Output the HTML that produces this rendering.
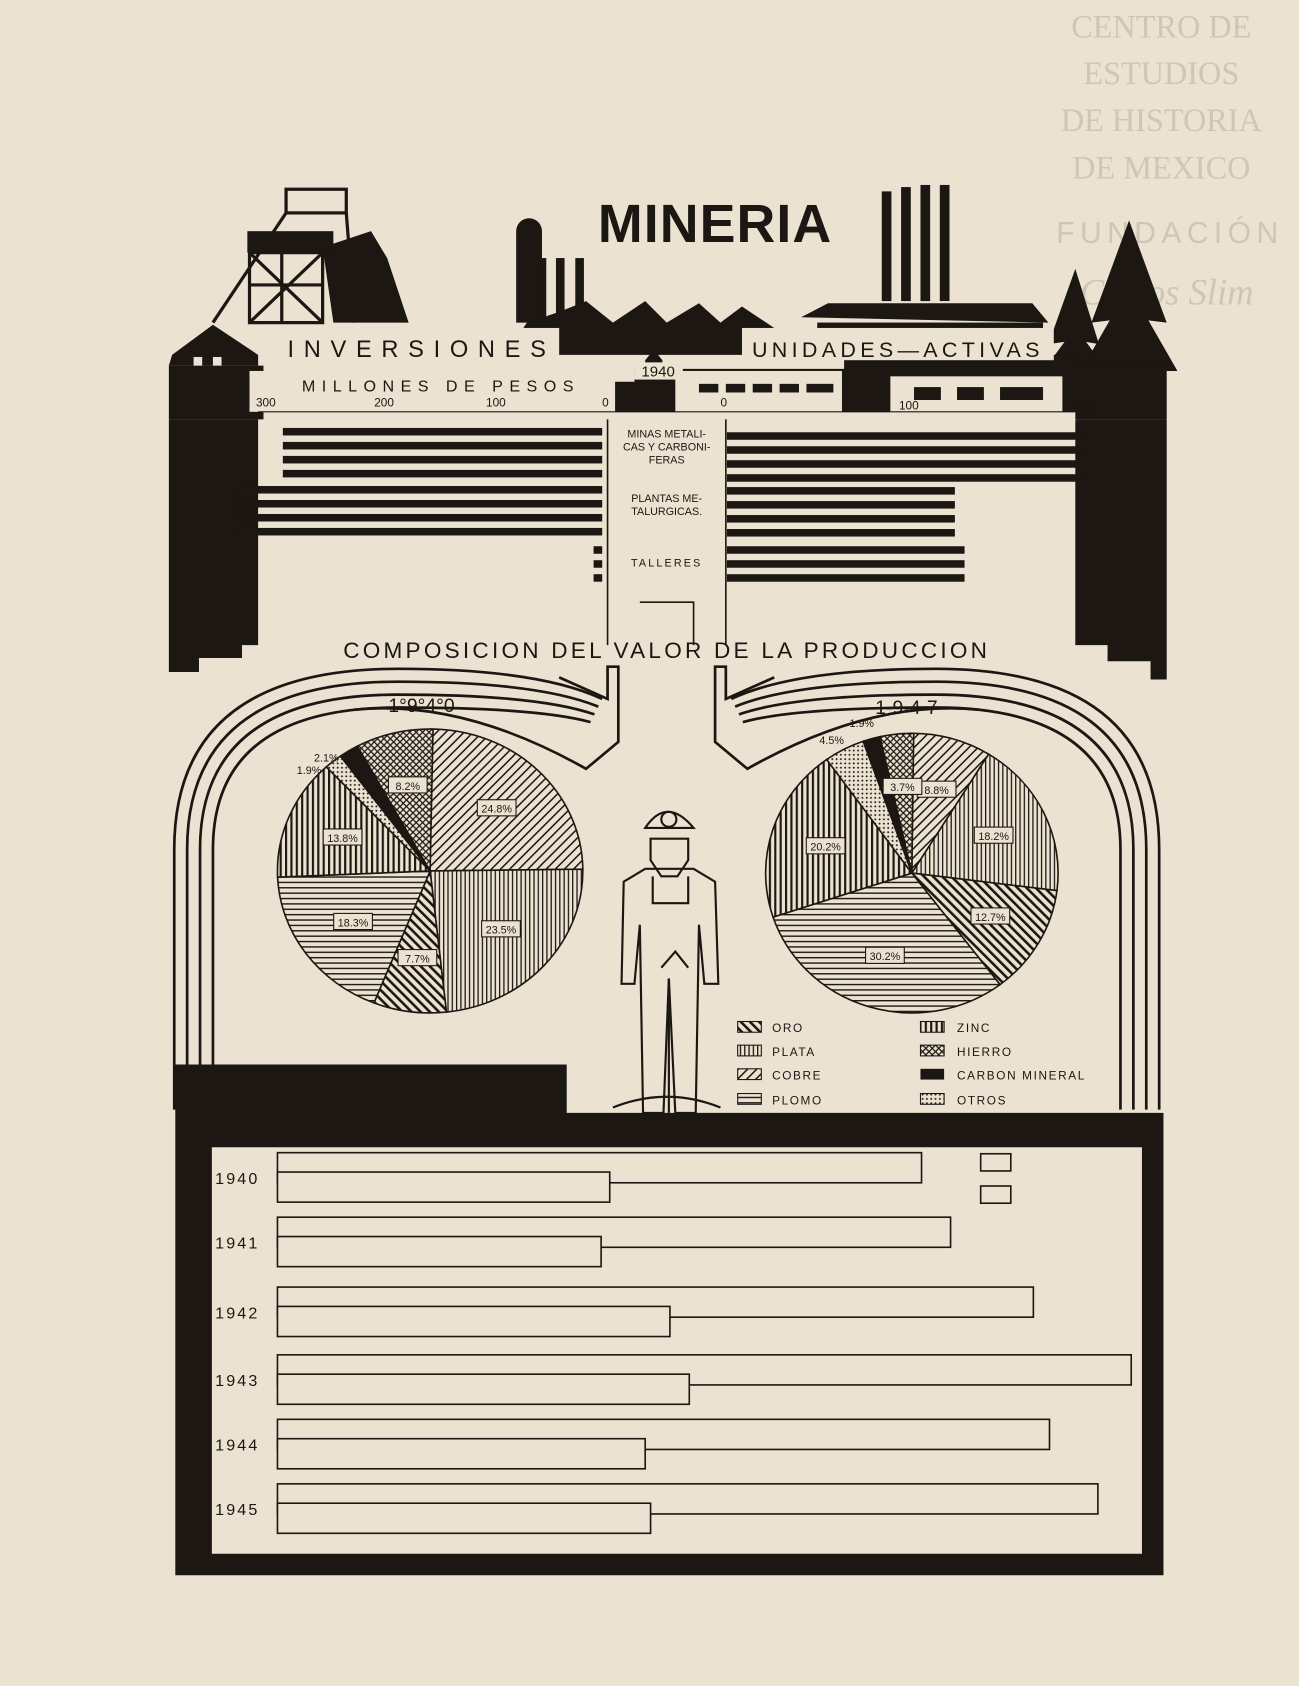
<!DOCTYPE html>
<html><head><meta charset="utf-8"><style>
html,body{margin:0;padding:0;background:#ebe2d1;}
svg{display:block}
text{font-family:"Liberation Sans",sans-serif;fill:#1c1712}
text.wm{font-family:"Liberation Serif",serif;fill:#cfc6b5}
</style></head><body>
<svg id="s" width="1299" height="1686" viewBox="0 0 1208 1568" xmlns="http://www.w3.org/2000/svg">
<defs>
<pattern id="pd" width="6" height="6" patternUnits="userSpaceOnUse" patternTransform="rotate(45)"><rect width="6" height="6" fill="#ebe2d1"/><rect width="1.4" height="6" fill="#1c1712"/></pattern>
<pattern id="pb" width="6" height="6" patternUnits="userSpaceOnUse" patternTransform="rotate(-45)"><rect width="6" height="6" fill="#ebe2d1"/><rect width="2.4" height="6" fill="#1c1712"/></pattern>
<pattern id="pv" width="4" height="4" patternUnits="userSpaceOnUse"><rect width="4" height="4" fill="#ebe2d1"/><rect width="1.2" height="4" fill="#1c1712"/></pattern>
<pattern id="pv2" width="5" height="5" patternUnits="userSpaceOnUse"><rect width="5" height="5" fill="#ebe2d1"/><rect width="2" height="5" fill="#1c1712"/></pattern>
<pattern id="ph" width="5" height="5" patternUnits="userSpaceOnUse"><rect width="5" height="5" fill="#ebe2d1"/><rect width="5" height="1.3" fill="#1c1712"/></pattern>
<pattern id="px" width="6" height="6" patternUnits="userSpaceOnUse"><rect width="6" height="6" fill="#ebe2d1"/><path d="M0 0L6 6M6 0L0 6" stroke="#1c1712" stroke-width="1.2"/></pattern>
<pattern id="pdot" width="4" height="4" patternUnits="userSpaceOnUse"><rect width="4" height="4" fill="#ebe2d1"/><circle cx="2" cy="2" r="0.9" fill="#1c1712"/></pattern>
</defs>
<rect width="1208" height="1568" fill="#ebe2d1"/>
<g fill="#1c1712" stroke="none">
<text class="wm" x="1080" y="35" font-size="30" text-anchor="middle">CENTRO DE</text>
<text class="wm" x="1080" y="78" font-size="30" text-anchor="middle">ESTUDIOS</text>
<text class="wm" x="1080" y="122" font-size="30" text-anchor="middle">DE HISTORIA</text>
<text class="wm" x="1080" y="166" font-size="30" text-anchor="middle">DE MEXICO</text>
<text x="1088" y="226" font-size="28" text-anchor="middle" letter-spacing="5" style="fill:#cfc6b5">FUNDACIÓN</text>
<text class="wm" x="1085" y="283" font-style="italic" font-size="34" text-anchor="middle">Carlos Slim</text>
<text x="665" y="225" font-size="50" font-weight="bold" text-anchor="middle" letter-spacing="1">MINERIA</text>
<rect x="820" y="178" width="9" height="102"/><rect x="838" y="174" width="9" height="106"/><rect x="856" y="172" width="9" height="108"/><rect x="874" y="172" width="9" height="108"/>
<path d="M745 295 L770 282 L960 282 L975 300 Z"/>
<rect x="760" y="300" width="210" height="30"/>
<path d="M480 215 a12 12 0 0 1 24 0 V300 H480Z"/>
<rect x="500" y="240" width="8" height="60"/><rect x="517" y="240" width="8" height="60"/><rect x="535" y="240" width="8" height="60"/>
<path d="M470 330 L490 300 L520 290 L545 280 L570 300 L600 280 L620 300 L650 282 L670 300 L690 285 L720 305 L720 330Z"/>
<g stroke="#1c1712" stroke-width="3" fill="none">
<rect x="266" y="176" width="56" height="22"/>
<path d="M198 300 L266 198 M322 198 L330 300"/>
<path d="M232 235 H300 V300 H232 Z M232 265 H300 M232 235 L300 300 M300 235 L232 300 M262 235 V300"/>
</g>
<path d="M300 230 L345 215 L360 240 L380 300 L310 300 Z"/>
<rect x="230" y="215" width="80" height="20"/>
<path d="M160 330 L198 302 L240 330 V340 H157Z"/>
<path d="M1000 250 L975 320 L990 318 L970 345 L1030 345 L1010 318 L1022 320Z"/>
<path d="M1050 205 L1015 300 L1032 298 L1005 345 L1095 345 L1068 298 L1085 300Z"/>
<rect x="1042" y="340" width="12" height="40"/>
<path d="M157 340 H245 V355 H590 V343 H600 V335 L608 325 L616 335 V343 H785 V330 H1000 V340 H1085 V390 H157Z"/>
<path d="M157 390 H240 V600 H225 V612 H185 V625 H157Z"/>
<path d="M1000 390 H1085 V632 H1070 V615 H1030 V600 H1000Z"/>
<rect x="250" y="305" width="270" height="30" fill="#ebe2d1"/>
<rect x="690" y="305" width="290" height="30" fill="#ebe2d1"/>
<rect x="232" y="345" width="340" height="38" fill="#ebe2d1"/>
<rect x="590" y="337" width="45" height="16" fill="#ebe2d1"/>
<rect x="628" y="345" width="155" height="38" fill="#ebe2d1"/>
<rect x="828" y="350" width="160" height="33" fill="#ebe2d1"/>
<rect x="245" y="383" width="755" height="10" fill="#ebe2d1"/>
<rect x="650" y="357" width="18" height="8"/><rect x="675" y="357" width="18" height="8"/><rect x="700" y="357" width="18" height="8"/><rect x="725" y="357" width="18" height="8"/><rect x="750" y="357" width="25" height="8"/>
<rect x="850" y="360" width="25" height="12"/><rect x="890" y="360" width="25" height="12"/><rect x="930" y="360" width="40" height="12"/>
<rect x="180" y="332" width="8" height="8" fill="#ebe2d1"/><rect x="198" y="332" width="8" height="8" fill="#ebe2d1"/>
</g>
<text x="392" y="332" font-size="22" text-anchor="middle" letter-spacing="9">INVERSIONES</text>
<text x="835" y="332" font-size="20" text-anchor="middle" letter-spacing="4">UNIDADES—ACTIVAS</text>
<text x="410" y="364" font-size="15" text-anchor="middle" letter-spacing="6">MILLONES DE PESOS</text>
<text x="612" y="350" font-size="14" text-anchor="middle">1940</text>
<line x1="240" y1="383" x2="1000" y2="383" stroke="#1c1712" stroke-width="1"/>
<g font-size="11"><text x="238" y="378">300</text><text x="348" y="378">200</text><text x="452" y="378">100</text><text x="560" y="378">0</text><text x="670" y="378">0</text><text x="836" y="381">100</text><text x="1000" y="381">200</text></g>
<g stroke="#1c1712" stroke-width="1.5" fill="none">
<path d="M565 390 V600 M675 390 V600 M595 560 H645 V600"/>
</g>
<g font-size="10" text-anchor="middle"><text x="620" y="407">MINAS METALI-</text><text x="620" y="419">CAS Y CARBONI-</text><text x="620" y="431">FERAS</text>
<text x="620" y="467">PLANTAS ME-</text><text x="620" y="479">TALURGICAS.</text><text x="620" y="527" letter-spacing="2">TALLERES</text></g>
<g id="bars" fill="#1c1712"></g>
<g id="arch" stroke="#1c1712" stroke-width="2.5" fill="none"></g>
<text x="620" y="612" font-size="21" text-anchor="middle" letter-spacing="3">COMPOSICION  DEL  VALOR  DE  LA  PRODUCCION</text>
<text x="392" y="662" font-size="18" text-anchor="middle">1°9°4°0</text>
<text x="843" y="664" font-size="18" text-anchor="middle">1-9-4-7</text>
<g id="pies"></g>
<g stroke="#1c1712" stroke-width="2" fill="none">
<path d="M600 770 Q620 740 645 770 Z"/><circle cx="622" cy="762" r="7"/>
<path d="M605 780 H640 V800 L630 815 H615 L605 800Z"/>
<path d="M580 820 L600 808 L645 808 L665 820 L668 915 L655 915 L650 860 L647 1035 L628 1035 L622 910 L617 1035 L598 1035 L595 860 L590 915 L578 915Z"/>
<path d="M607 815 V840 H640 V815"/><path d="M615 900 L628 885 L640 900 M622 910 L622 1035"/>
<path d="M570 1030 Q620 1010 670 1030"/>
</g>
<g font-size="11" letter-spacing="1.5">
<rect x="686" y="950" width="22" height="10" fill="url(#pb)" stroke="#1c1712"/><text x="718" y="960">ORO</text>
<rect x="686" y="972" width="22" height="10" fill="url(#pv)" stroke="#1c1712"/><text x="718" y="982">PLATA</text>
<rect x="686" y="994" width="22" height="10" fill="url(#pd)" stroke="#1c1712"/><text x="718" y="1004">COBRE</text>
<rect x="686" y="1017" width="22" height="10" fill="url(#ph)" stroke="#1c1712"/><text x="718" y="1027">PLOMO</text>
<rect x="856" y="950" width="22" height="10" fill="url(#pv2)" stroke="#1c1712"/><text x="890" y="960">ZINC</text>
<rect x="856" y="972" width="22" height="10" fill="url(#px)" stroke="#1c1712"/><text x="890" y="982">HIERRO</text>
<rect x="856" y="994" width="22" height="10" fill="#1c1712"/><text x="890" y="1004">CARBON MINERAL</text>
<rect x="856" y="1017" width="22" height="10" fill="url(#pdot)" stroke="#1c1712"/><text x="890" y="1027">OTROS</text>
</g>
<path d="M163 990 H527 V1035 H1082 V1465 H163Z M197 1067 V1445 H1062 V1067Z" fill="#1c1712" fill-rule="evenodd"/>
<g id="bb" stroke="#1c1712" stroke-width="1.5" fill="none"></g>
<rect x="912" y="1073" width="28" height="16" fill="none" stroke="#1c1712" stroke-width="1.5"/>
<rect x="912" y="1103" width="28" height="16" fill="none" stroke="#1c1712" stroke-width="1.5"/>
<g font-size="15" letter-spacing="2"><text x="200" y="1101">1940</text><text x="200" y="1161">1941</text><text x="200" y="1226">1942</text><text x="200" y="1289">1943</text><text x="200" y="1349">1944</text><text x="200" y="1409">1945</text></g>
</svg>
<script>
var NS="http://www.w3.org/2000/svg";
function el(p,t,a){var e=document.createElementNS(NS,t);for(var k in a)e.setAttribute(k,a[k]);p.appendChild(e);return e;}
var bars=document.getElementById('bars');
function sb(x1,x2,y1,y2){for(var y=y1;y<y2;y+=13){el(bars,'rect',{x:x1,y:y,width:x2-x1,height:7});}}
sb(263,560,398,440);sb(222,560,452,494);sb(552,560,508,540);
sb(676,1005,402,444);sb(676,888,453,494);sb(676,897,508,540);
var ar=document.getElementById('arch');
for(var i=0;i<4;i++){var d=i*12;
el(ar,'path',{d:'M'+(162+d)+' 1032 V790 Q'+(162+d)+' '+(622+d)+' 370 '+(622+d)+' Q500 '+(622+d)+' '+(560-d*0.3)+' '+(650+d*0.6)});
el(ar,'path',{d:'M'+(1078-d)+' 1032 V790 Q'+(1078-d)+' '+(622+d)+' 870 '+(622+d)+' Q740 '+(622+d)+' '+(680+d*0.3)+' '+(650+d*0.6)});}
el(ar,'path',{d:'M520 630 L565 650 V620 H575 V690 L545 715 Q430 650 330 660'});
el(ar,'path',{d:'M720 630 L675 650 V620 H665 V690 L695 715 Q810 650 910 660'});
var pies=document.getElementById('pies');
function pie(cx,cy,rx,ry,sl){var a=0;sl.forEach(function(s){var a2=a+s[0]*3.6;var r1=(a-90)*Math.PI/180,r2=(a2-90)*Math.PI/180;
var p='M'+cx+' '+cy+' L'+(cx+rx*Math.cos(r1))+' '+(cy+ry*Math.sin(r1))+' A'+rx+' '+ry+' 0 '+(s[0]>50?1:0)+' 1 '+(cx+rx*Math.cos(r2))+' '+(cy+ry*Math.sin(r2))+'Z';
el(pies,'path',{d:p,fill:s[1],stroke:'#1c1712','stroke-width':1.5});
if(s[2]){var m=((a+a2)/2-90)*Math.PI/180;var lx=cx+rx*0.62*Math.cos(m),ly=cy+ry*0.62*Math.sin(m);
el(pies,'rect',{x:lx-18,y:ly-8,width:36,height:15,fill:'#ebe2d1',stroke:'#1c1712'});
var t=el(pies,'text',{x:lx,y:ly+4,'font-size':10,'text-anchor':'middle'});t.textContent=s[2];}
a=a2;});}
pie(400,810,142,132,[[24.8,'url(#pd)','24.8%'],[23.5,'url(#pv)','23.5%'],[7.7,'url(#pb)','7.7%'],[18.3,'url(#ph)','18.3%'],[13.8,'url(#pv2)','13.8%'],[1.9,'url(#pdot)',''],[2.1,'#1c1712',''],[8.2,'url(#px)','8.2%']]);
pie(848,812,136,130,[[8.8,'url(#pd)','8.8%'],[18.2,'url(#pv)','18.2%'],[12.7,'url(#pb)','12.7%'],[30.2,'url(#ph)','30.2%'],[20.2,'url(#pv2)','20.2%'],[4.5,'url(#pdot)',''],[1.9,'#1c1712',''],[3.7,'url(#px)','3.7%']]);
var lb=[[292,708,'2.1%'],[276,720,'1.9%'],[762,692,'4.5%'],[790,676,'1.9%']];
lb.forEach(function(l){var t=el(pies,'text',{x:l[0],y:l[1],'font-size':10});t.textContent=l[2];});
var bb=document.getElementById('bb');
[[1095,857,567],[1155,884,559],[1220,961,623],[1283,1052,641],[1343,976,600],[1403,1021,605]].forEach(function(r){
el(bb,'rect',{x:258,y:r[0]-23,width:r[1]-258,height:28});
el(bb,'rect',{x:258,y:r[0]-5,width:r[2]-258,height:28,fill:'#ebe2d1'});});
</script>
</body></html>
